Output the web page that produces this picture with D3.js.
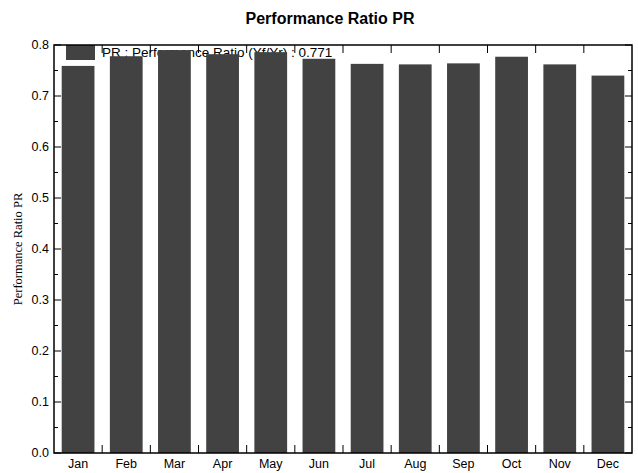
<!DOCTYPE html>
<html>
<head>
<meta charset="utf-8">
<script src="https://cdn.jsdelivr.net/npm/d3@7"></script>
<style>
  body { margin: 0; background: #fff; }
  svg { display: block; }
</style>
</head>
<body>
<svg id="chart" width="638" height="473"></svg>
<script>
const months = ['Jan', 'Feb', 'Mar', 'Apr', 'May', 'Jun', 'Jul', 'Aug', 'Sep', 'Oct', 'Nov', 'Dec']
const prValues = [0.759, 0.778, 0.790, 0.782, 0.786, 0.773, 0.763, 0.762, 0.764, 0.777, 0.762, 0.740]
const yTicks = [0.0, 0.1, 0.2, 0.3, 0.4, 0.5, 0.6, 0.7, 0.8]
const legendLabel = 'PR : Performance Ratio (Yf/Yr) : 0.771'

const plotLeft = 54
const plotRight = 632
const plotTop = 45
const plotBottom = 453

const svg = d3.select('#chart')

const x = d3.scaleBand().domain(months).range([plotLeft, plotRight]).paddingInner(0.32).paddingOuter(0.16)
const y = d3.scaleLinear().domain([0, 0.8]).range([plotBottom, plotTop])

// title
svg.append('text')
  .attr('x', 330).attr('y', 24)
  .attr('text-anchor', 'middle')
  .style('font', 'bold 16px "Liberation Sans", Arial, sans-serif')
  .text('Performance Ratio PR')

// legend drawn under the bars, as in the original
svg.append('rect')
  .attr('x', 66).attr('y', plotTop).attr('width', 29).attr('height', 15)
  .attr('fill', '#424242')
svg.append('text')
  .attr('x', 102).attr('y', 57)
  .style('font', '13.5px "Liberation Sans", Arial, sans-serif')
  .text(legendLabel)

// bars
svg.append('g')
  .selectAll('rect')
  .data(months)
  .join('rect')
  .attr('x', d => x(d))
  .attr('width', x.bandwidth())
  .attr('y', (d, i) => y(prValues[i]))
  .attr('height', (d, i) => y(0) - y(prValues[i]))
  .attr('fill', '#424242')

// frame
svg.append('rect')
  .attr('x', plotLeft).attr('y', plotTop)
  .attr('width', plotRight - plotLeft).attr('height', plotBottom - plotTop)
  .attr('fill', 'none').attr('stroke', '#000').attr('stroke-width', 1.5)

// y ticks inward, left and right
const minor = d3.range(0.05, 0.8, 0.1)
const tickG = svg.append('g').attr('stroke', '#000').attr('stroke-width', 1)
tickG.selectAll('.ymaj').data(yTicks).join('line')
  .attr('x1', plotLeft).attr('x2', plotLeft + 7)
  .attr('y1', d => y(d)).attr('y2', d => y(d))
tickG.selectAll('.ymin').data(minor).join('line')
  .attr('x1', plotLeft).attr('x2', plotLeft + 4)
  .attr('y1', d => y(d)).attr('y2', d => y(d))
tickG.selectAll('.ymajr').data(yTicks).join('line')
  .attr('x1', plotRight).attr('x2', plotRight - 7)
  .attr('y1', d => y(d)).attr('y2', d => y(d))
tickG.selectAll('.yminr').data(minor).join('line')
  .attr('x1', plotRight).attr('x2', plotRight - 4)
  .attr('y1', d => y(d)).attr('y2', d => y(d))

// x ticks at band edges, top and bottom
const step = x.step()
const edges = months.slice(1).map(m => x(m) - step * x.paddingInner() / 2)
tickG.selectAll('.xb').data(edges).join('line')
  .attr('x1', d => d).attr('x2', d => d)
  .attr('y1', plotBottom).attr('y2', plotBottom - 8)
tickG.selectAll('.xt').data(edges).join('line')
  .attr('x1', d => d).attr('x2', d => d)
  .attr('y1', plotTop).attr('y2', plotTop + 8)

// y tick labels
svg.append('g')
  .selectAll('text')
  .data(yTicks)
  .join('text')
  .attr('x', plotLeft - 5)
  .attr('y', d => y(d) + 4)
  .attr('text-anchor', 'end')
  .style('font', '12.5px "Liberation Sans", Arial, sans-serif')
  .text(d => d.toFixed(1))

// month labels
svg.append('g')
  .selectAll('text')
  .data(months)
  .join('text')
  .attr('x', d => x(d) + x.bandwidth() / 2)
  .attr('y', 468)
  .attr('text-anchor', 'middle')
  .style('font', '12.5px "Liberation Sans", Arial, sans-serif')
  .text(d => d)

// y axis title
svg.append('text')
  .attr('transform', `translate(22,${(plotTop + plotBottom) / 2}) rotate(-90)`)
  .attr('text-anchor', 'middle')
  .style('font', '12.5px "Liberation Serif", "Times New Roman", serif')
  .text('Performance Ratio PR')
</script>
</body>
</html>
